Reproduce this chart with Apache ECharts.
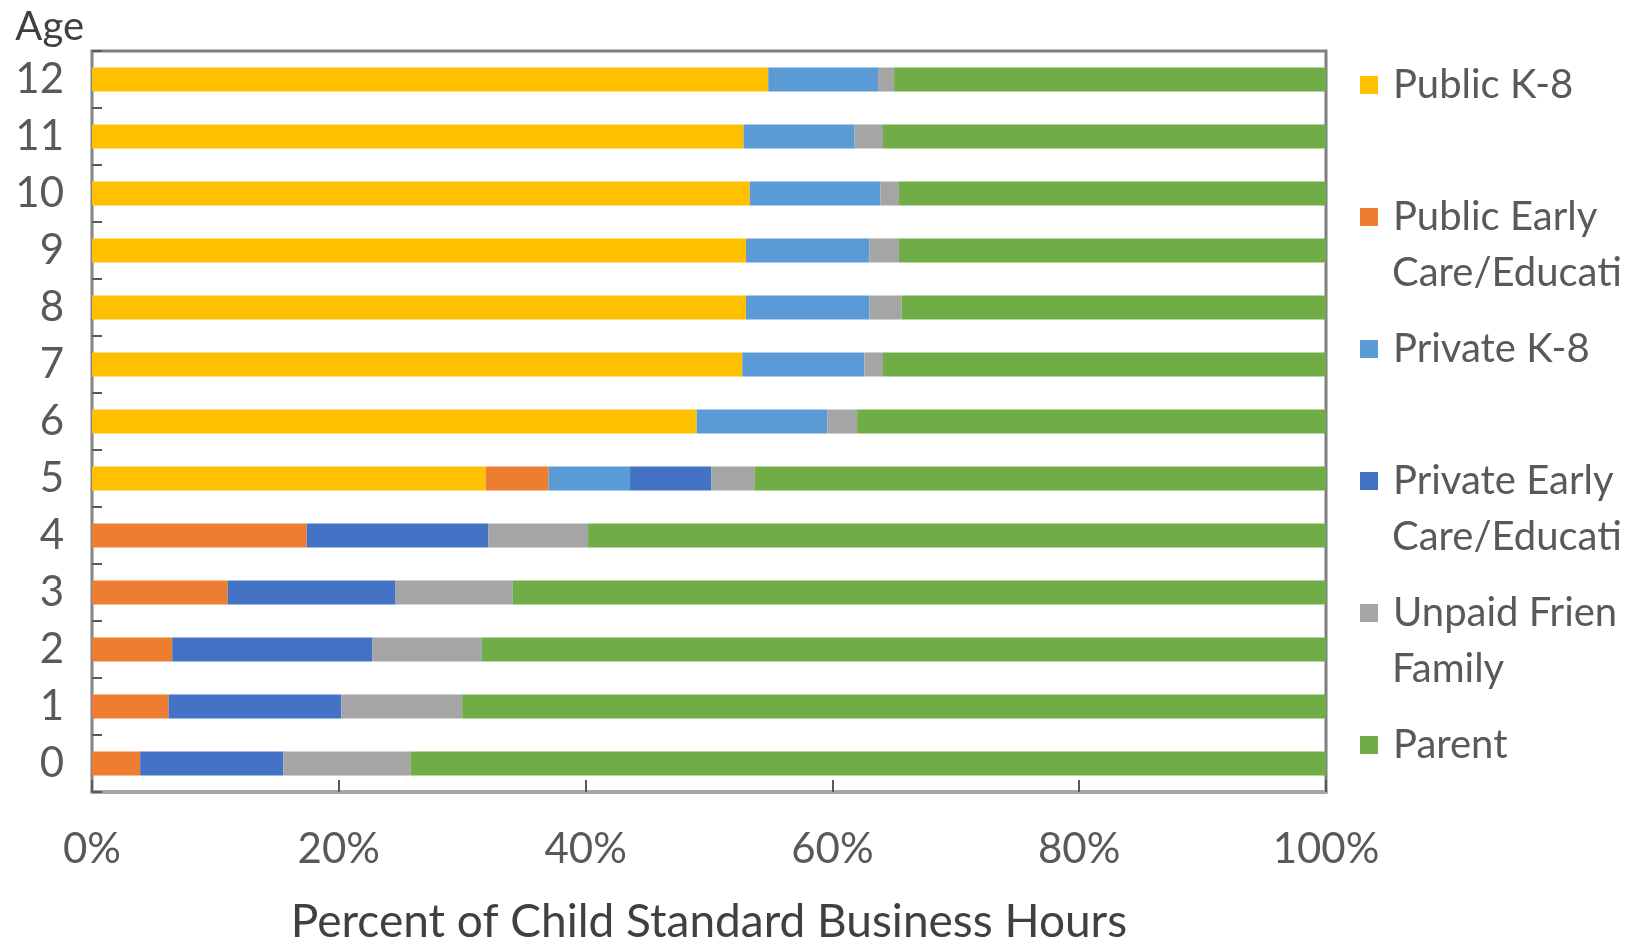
<!DOCTYPE html>
<html>
<head>
<meta charset="utf-8">
<script src="https://cdn.jsdelivr.net/npm/echarts@6/dist/echarts.min.js"></script>
<style>
  html, body { margin: 0; padding: 0; background: #ffffff; }
  #chart { width: 1644px; height: 943px; }
</style>
</head>
<body>
<div id="chart"></div>
<script>
// Categories (ages, bottom to top)
const ages = ['0', '1', '2', '3', '4', '5', '6', '7', '8', '9', '10', '11', '12'];

// Series names (legend order = stacking order)
const seriesNames = [
  'Public K-8',
  'Public Early Care/Education',
  'Private K-8',
  'Private Early Care/Education',
  'Unpaid Friend/Family',
  'Parent'
];

// Values in percent, ages 0..12
const publicK8          = [0,    0,    0,    0,    0,    31.9, 49.0, 52.7, 53.0, 53.0, 53.3, 52.8, 54.8];
const publicEarly       = [3.9,  6.2,  6.5,  11.0, 17.4, 5.1,  0,    0,    0,    0,    0,    0,    0];
const privateK8         = [0,    0,    0,    0,    0,    6.6,  10.6, 9.9,  10.0, 10.0, 10.6, 9.0,  8.9];
const privateEarly      = [11.6, 14.0, 16.2, 13.6, 14.7, 6.6,  0,    0,    0,    0,    0,    0,    0];
const unpaidFriend      = [10.3, 9.8,  8.9,  9.5,  8.1,  3.5,  2.4,  1.5,  2.6,  2.4,  1.5,  2.3,  1.3];
const parent            = [74.2, 70.0, 68.4, 65.9, 59.8, 46.3, 38.0, 35.9, 34.4, 34.6, 34.6, 35.9, 35.0];

// Tick labels for the value axis
const xTicks = [0, 20, 40, 60, 80, 100];

const seriesValues = [publicK8, publicEarly, privateK8, privateEarly, unpaidFriend, parent];
const colors = ['#FFC000', '#ED7D31', '#5B9BD5', '#4472C4', '#A5A5A5', '#70AD47'];

// Legend first-line labels and wrapped second lines (clipped like the original)
const legendFirstLine = {
  'Public K-8': 'Public K-8',
  'Public Early Care/Education': 'Public Early',
  'Private K-8': 'Private K-8',
  'Private Early Care/Education': 'Private Early',
  'Unpaid Friend/Family': 'Unpaid Friend/',
  'Parent': 'Parent'
};
const legendSecondLines = [
  { text: 'Care/Education', y: 275 },
  { text: 'Care/Education', y: 539 },
  { text: 'Family', y: 671 }
];

const FONT = 'Lato, "Open Sans", sans-serif';
const chart = echarts.init(document.getElementById('chart'), null, { renderer: 'canvas' });

const option = {
  backgroundColor: '#ffffff',
  animation: false,
  textStyle: { fontFamily: FONT },
  grid: {
    left: 92, right: 318, top: 51, bottom: 151,
    containLabel: false,
    outerBoundsMode: 'none',
    show: true,
    borderColor: '#7f7f7f',
    borderWidth: 3,
    backgroundColor: 'transparent'
  },
  legend: {
    orient: 'vertical',
    left: 1355,
    top: 58,
    icon: 'rect',
    itemWidth: 18,
    itemHeight: 18,
    itemGap: 88,
    selectedMode: false,
    data: seriesNames,
    formatter: name => legendFirstLine[name],
    textStyle: {
      fontFamily: FONT,
      fontSize: 40,
      color: '#595959',
      lineHeight: 44,
      padding: [0, 0, 0, 10],
      width: 232,
      overflow: 'truncate',
      ellipsis: ''
    }
  },
  graphic: legendSecondLines.map(l => ({
    type: 'text',
    left: 1392,
    top: l.y - 22,
    style: {
      text: l.text,
      font: '40px ' + FONT,
      fill: '#595959',
      width: 236,
      overflow: 'truncate',
      ellipsis: ''
    }
  })),
  xAxis: {
    type: 'value',
    min: 0,
    max: 100,
    interval: 20,
    name: 'Percent of Child Standard Business Hours',
    nameLocation: 'middle',
    nameGap: 107,
    nameTextStyle: { fontSize: 46, color: '#404040', fontFamily: FONT },
    axisLine: { show: true, lineStyle: { color: '#a6a6a6', width: 4 } },
    axisTick: { show: true, inside: true, length: 12, lineStyle: { color: '#595959', width: 2 } },
    axisLabel: {
      margin: 36,
      fontSize: 42,
      color: '#595959',
      fontFamily: FONT,
      formatter: v => (xTicks.indexOf(v) >= 0 ? v + '%' : '')
    },
    splitLine: { show: false }
  },
  yAxis: {
    type: 'category',
    data: ages,
    name: 'Age',
    nameLocation: 'end',
    nameGap: 4,
    nameTextStyle: {
      fontSize: 40, color: '#404040', fontFamily: FONT,
      align: 'right', verticalAlign: 'bottom', padding: [0, 8, 0, 0]
    },
    axisLine: { show: true, lineStyle: { color: '#868686', width: 2 } },
    axisTick: { show: true, inside: true, length: 10, lineStyle: { color: '#595959', width: 2 } },
    axisLabel: { margin: 28, fontSize: 42, color: '#595959', fontFamily: FONT },
    splitLine: { show: false }
  },
  series: seriesNames.map((name, i) => ({
    name: name,
    type: 'bar',
    stack: 'total',
    barWidth: 24,
    itemStyle: { color: colors[i] },
    emphasis: { disabled: true },
    data: seriesValues[i]
  }))
};

chart.setOption(option);
</script>
</body>
</html>
